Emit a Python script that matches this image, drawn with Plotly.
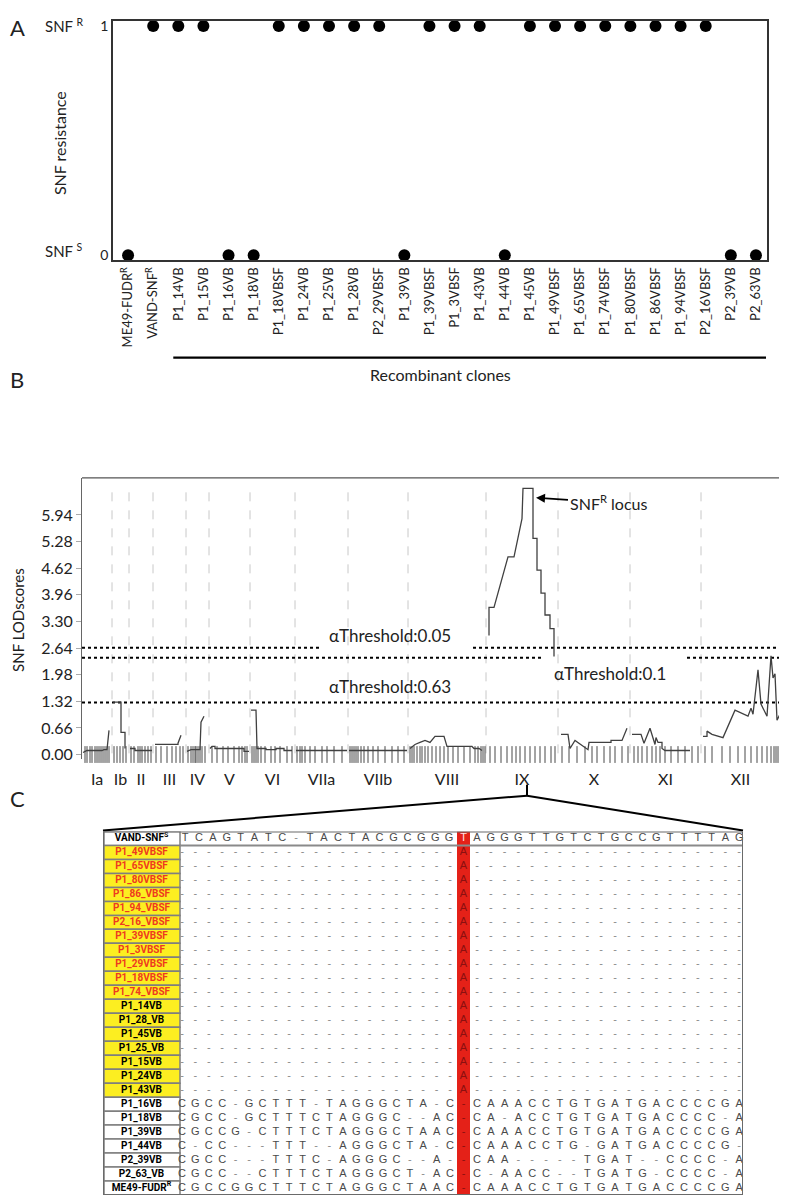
import plotly.graph_objects as go

# page body has an 8px margin: figure is drawn at (8, 8)
OFF = 8
W, H = 787 - OFF, 1203 - OFF
def px(x): return (x - OFF) / W
def py(y): return 1 - (y - OFF) / H

FONT = "Lato"
TFONT = "Liberation Sans"
NFONT = "Roboto"

# ---------------- Panel A data ----------------
clone_labels = ["ME49-FUDR<sup>R</sup>", "VAND-SNF<sup>R</sup>", "P1_14VB", "P1_15VB", "P1_16VB",
                "P1_18VB", "P1_18VBSF", "P1_24VB", "P1_25VB", "P1_28VB", "P2_29VBSF", "P1_39VB",
                "P1_39VBSF", "P1_3VBSF", "P1_43VB", "P1_44VB", "P1_45VB", "P1_49VBSF", "P1_65VBSF",
                "P1_74VBSF", "P1_80VBSF", "P1_86VBSF", "P1_94VBSF", "P2_16VBSF", "P2_39VB", "P2_63VB"]
snf_resistance = [0, 1, 1, 1, 0, 0, 1, 1, 1, 1, 1, 0, 1, 1, 1, 0, 1, 1, 1, 1, 1, 1, 1, 1, 0, 0]

# ---------------- Panel B data ----------------
chrom_names = ["Ia", "Ib", "II", "III", "IV", "V", "VI", "VIIa", "VIIb", "VIII", "IX", "X", "XI", "XII"]
chrom_bounds = [0, 3.0, 4.7, 7.1, 10.4, 12.7, 16.8, 21.3, 26.6, 32.6, 40.4, 47.6, 54.8, 61.9, 69.8]
lod_ticks = [0.00, 0.66, 1.32, 1.98, 2.64, 3.30, 3.96, 4.62, 5.28, 5.94]

lod_pos = [0.1, 0.5, 2.0, 2.2, 2.5, 2.7, None,
           3.1, 3.9, 3.9, 4.3, 4.3, None,
           4.8, 5.3, 5.3, 7.0, None,
           7.3, 9.6, 9.6, 9.9, None,
           10.5, 10.9, 11.8, 11.9, 12.2, None,
           12.8, 13.0, 13.3, 13.3, 16.2, 16.2, 16.7, None,
           16.9, 17.4, 17.5, 18.4, 18.4, 19.4, 19.4, 20.2, 20.2, 21.0, None,
           21.4, 26.5, None,
           26.7, 32.5, None,
           32.8, 33.3, 33.8, 34.3, 34.8, 35.3, 36.2, 36.5, 39.0, 39.2, 39.7, 40.0, None,
           40.7, 40.7, 41.2, 42.6, 43.2, 44.0, 44.1, 45.1, 45.1, 45.5, 45.5, 45.9, 45.9,
           46.3, 46.3, 46.8, 46.8, 47.2, 47.2, None,
           47.9, 48.6, 48.8, 49.3, 50.6, 50.7, 52.9, 52.9, 54.0, 54.5, None,
           55.0, 55.9, 56.2, 56.8, 57.3, 57.4, 57.6, 58.0, 58.0, 58.3, 60.8, None,
           62.1, 62.5, 62.5, 63.0, 64.1, 65.3, 66.6, 66.9, 67.1, 67.6, 67.9, 68.5, 68.9,
           69.1, 69.3, 69.5, 69.8]
lod_score = [0.05, 0.1, 0.1, 0.12, 0.12, 0.6, None,
             1.3, 1.3, 0.55, 0.55, 0.15, None,
             0.15, 0.15, 0.1, 0.1, None,
             0.25, 0.25, 0.28, 0.48, None,
             0.08, 0.12, 0.12, 0.8, 0.95, None,
             0.15, 0.2, 0.2, 0.15, 0.15, 0.08, 0.08, None,
             1.1, 1.1, 0.15, 0.15, 0.12, 0.12, 0.15, 0.15, 0.1, 0.1, None,
             0.1, 0.1, None,
             0.1, 0.1, None,
             0.15, 0.25, 0.3, 0.35, 0.3, 0.45, 0.45, 0.2, 0.2, 0.15, 0.15, 0.1, None,
             2.95, 3.65, 3.65, 4.9, 4.9, 5.85, 6.6, 6.6, 5.36, 5.36, 4.57, 4.57, 4.0,
             4.0, 3.46, 3.46, 3.12, 3.12, 2.43, None,
             0.5, 0.5, 0.15, 0.35, 0.12, 0.3, 0.3, 0.35, 0.35, 0.65, None,
             0.5, 0.5, 0.28, 0.65, 0.25, 0.42, 0.3, 0.3, 0.15, 0.1, 0.1, None,
             0.45, 0.45, 0.58, 0.5, 0.42, 1.1, 0.95, 1.15, 1.0, 2.1, 1.25, 0.95, 2.45,
             1.9, 2.0, 0.85, 1.0]

marker_pos = [0.3, 0.5, 0.8, 1.0, 1.3, 1.5, 1.7, 1.9, 2.1, 2.3, 2.5, 2.7,
              3.2, 3.5, 3.8, 4.1, 4.4,
              4.9, 5.2, 5.6, 5.8, 6.0, 6.3, 6.6, 6.9,
              7.4, 7.9, 8.5, 9.0, 9.4, 9.8, 10.1,
              10.6, 10.9, 11.1, 11.3, 11.4, 11.6, 11.8, 12.0, 12.3,
              13.0, 13.5, 14.1, 14.6, 15.2, 15.7, 16.0, 16.3, 16.5,
              17.0, 17.2, 17.4, 17.6, 17.9, 18.3, 18.9, 19.3, 19.8, 20.5, 21.0,
              21.5, 21.8, 22.0, 22.3, 22.8, 23.3, 24.0, 24.5, 25.2, 26.0,
              26.8, 27.0, 27.2, 27.4, 27.6, 27.9, 28.2, 28.6, 29.1, 29.6, 30.3, 31.0, 31.6, 32.2,
              32.8, 33.0, 33.2, 33.5, 33.8, 34.0, 34.3, 34.6, 35.0, 35.4, 35.8, 36.2, 36.6,
              37.1, 37.6, 38.2, 38.8, 39.3, 39.6, 39.9, 40.1, 40.3,
              40.8, 41.3, 41.9, 42.5, 43.0, 43.4, 43.8, 44.3, 44.8, 45.3, 45.8, 46.3, 46.9, 47.3,
              48.0, 48.7, 49.5, 50.3, 51.0, 51.5, 52.2, 52.8, 53.3, 54.0, 54.6,
              55.2, 55.6, 56.0, 56.5, 57.0, 57.4, 57.8, 58.3, 58.9, 59.6, 60.3, 61.0, 61.6,
              62.3, 63.0, 64.0, 64.8, 65.6, 66.3, 66.9, 67.5, 68.0, 68.5, 68.9, 69.2, 69.4, 69.6]

thr_levels = [2.65, 2.40, 1.29]
thr_labels = ["\u03b1Threshold:0.05", "\u03b1Threshold:0.1", "\u03b1Threshold:0.63"]
thr_segments = [[(0, 23.8), (39.1, 69.8)], [(0, 46.1), (60.5, 69.8)], [(0, 69.8)]]

# ---------------- Panel C data ----------------
strain_names = ["VAND-SNF<sup>S</sup>",
                "P1_49VBSF", "P1_65VBSF", "P1_80VBSF", "P1_86_VBSF", "P1_94_VBSF", "P2_16_VBSF",
                "P1_39VBSF", "P1_3VBSF", "P1_29VBSF", "P1_18VBSF", "P1_74_VBSF",
                "P1_14VB", "P1_28_VB", "P1_45VB", "P1_25_VB", "P1_15VB", "P1_24VB", "P1_43VB",
                "P1_16VB", "P1_18VB", "P1_39VB", "P1_44VB", "P2_39VB", "P2_63_VB", "ME49-FUDR<sup>R</sup>"]
strain_group = ["hdr"] + ["sf"] * 11 + ["vb"] * 7 + ["wt"] * 7
DASH21 = "-" * 21
DASH20 = "-" * 20
seq_left = ["TCAGTATC-TACTACGCGGG"] + [DASH21] * 18 + [
    "CGCC-GCTTT-TAGGGCTA-C", "CGCC-GCTTTCTAGGGC--AC", "CGCCG-CTTTCTAGGGCTAAC",
    "C-CC---TTT--AGGGCTA-C", "CGCC---TTTC-AGGGC--A-", "CGCC--CTTTCTAGGGCT-AC",
    "CGCCGGCTTTCTAGGGCTAAC"]
seq_snp = ["T"] + ["A"] * 18 + ["-"] * 7
seq_right = ["AGGGTTGTCTGCCGTTTTAG"] + [DASH20] * 18 + [
    "CAAACCTGTGATGACCCCGA", "CA-ACCTGTGATGACCCC-A", "CAAACCTGTGATGACCCCGA",
    "CAAACCTG-GATGACCCCG-", "CAA-----TGAT--CCCC-A", "C-AACC--TGATG-CCCC-A",
    "CAAACCTGTGATGACCCCGA"]

fig = go.Figure()

# ---------- Panel A ----------
fig.add_trace(go.Scatter(x=list(range(len(clone_labels))), y=snf_resistance, mode="markers",
                         marker=dict(color="black", size=12), xaxis="x", yaxis="y",
                         showlegend=False, hoverinfo="skip", cliponaxis=False))

# ---------- Panel B ----------
for lvl, segs in zip(thr_levels, thr_segments):
    xs, ys = [], []
    for a, b in segs:
        xs += [a, b, None]
        ys += [lvl, lvl, None]
    fig.add_trace(go.Scatter(x=xs, y=ys, mode="lines", xaxis="x2", yaxis="y2",
                             line=dict(color="black", width=2, dash="dot"),
                             showlegend=False, hoverinfo="skip"))
fig.add_trace(go.Scatter(x=marker_pos, y=[0] * len(marker_pos), mode="markers", xaxis="x2", yaxis="y2",
                         marker=dict(symbol="line-ns", size=12, line=dict(color="#333", width=0.9)),
                         showlegend=False, hoverinfo="skip", cliponaxis=False))
fig.add_trace(go.Scatter(x=lod_pos, y=lod_score, mode="lines", xaxis="x2", yaxis="y2",
                         line=dict(color="#404040", width=1.3), connectgaps=False,
                         showlegend=False, hoverinfo="skip"))

# ---------- Panel C ----------
nrows = len(strain_names)
name_colors = {"hdr": "black", "sf": "#ee3a1f", "vb": "black", "wt": "black"}
fig.add_trace(go.Scatter(x=[141.5] * nrows, y=list(range(nrows)), mode="text", text=strain_names,
                         textfont=dict(family=NFONT, size=10, color=[name_colors[g] for g in strain_group],
                                       weight="bold"),
                         xaxis="x3", yaxis="y3", showlegend=False, hoverinfo="skip", cliponaxis=False))
sx, sy, st, sc = [], [], [], []
for r in range(nrows):
    L = seq_left[r]
    if r == 0:
        xs = [185 + i * 13.9 for i in range(len(L))]
    else:
        xs = [182 + i * 13.4 for i in range(len(L))]
    for x, ch in zip(xs, L):
        sx.append(x); sy.append(r); st.append(ch)
        sc.append("#8a8a8a" if ch == "-" else "#4a4a4a")
    for i, ch in enumerate(seq_right[r]):
        sx.append(477 + i * 13.8); sy.append(r); st.append(ch)
        sc.append("#8a8a8a" if ch == "-" else "#4a4a4a")
fig.add_trace(go.Scatter(x=sx, y=sy, mode="text", text=st, textfont=dict(family=TFONT, size=11, color=sc),
                         xaxis="x3", yaxis="y3", showlegend=False, hoverinfo="skip", cliponaxis=False))
fig.add_trace(go.Scatter(x=[463.5] * nrows, y=list(range(nrows)), mode="text", text=seq_snp,
                         textfont=dict(family=TFONT, size=11,
                                       color=["#ffe0e0"] + ["#8b1010"] * (nrows - 1)),
                         xaxis="x3", yaxis="y3", showlegend=False, hoverinfo="skip", cliponaxis=False))

shapes = []
# Panel A recombinant line
shapes.append(dict(type="line", xref="x", yref="paper", x0=1.8, x1=25.4, y0=py(356), y1=py(356),
                   line=dict(color="black", width=2.2)))
# Panel B box top
shapes.append(dict(type="line", xref="x2 domain", yref="y2 domain", x0=0, x1=1, y0=1, y1=1,
                   line=dict(color="#555", width=1.3)))
# chromosome separators
for b in chrom_bounds[1:-1]:
    shapes.append(dict(type="line", xref="x2", yref="y2 domain", x0=b, x1=b, y0=0.02, y1=0.97,
                       line=dict(color="#c8c8c8", width=1, dash="dash"), layer="below"))
# connectors IX -> table
shapes.append(dict(type="line", xref="paper", yref="paper", x0=px(527), x1=px(527), y0=py(786), y1=py(797),
                   line=dict(color="black", width=2)))
shapes.append(dict(type="line", xref="paper", yref="paper", x0=px(527), x1=px(103), y0=py(797), y1=py(832),
                   line=dict(color="black", width=2)))
shapes.append(dict(type="line", xref="paper", yref="paper", x0=px(527), x1=px(743), y0=py(797), y1=py(832),
                   line=dict(color="black", width=2)))
# table cells
fills = {"hdr": "white", "sf": "#fcee21", "vb": "#fcee21", "wt": "white"}
for r in range(nrows):
    shapes.append(dict(type="rect", xref="x3", yref="y3", x0=104, x1=180, y0=r - 0.5, y1=r + 0.5,
                       fillcolor=fills[strain_group[r]], line=dict(color="#7f7f7f", width=1.5), layer="below"))
shapes.append(dict(type="rect", xref="x3", yref="y3", x0=457, x1=470, y0=-0.5, y1=nrows - 0.5,
                   fillcolor="#e42118", line=dict(width=0), layer="below"))
shapes.append(dict(type="line", xref="x3", yref="y3", x0=180, x1=743, y0=0.5, y1=0.5,
                   line=dict(color="#8a8a8a", width=2)))
shapes.append(dict(type="rect", xref="x3", yref="y3", x0=103, x1=743, y0=-0.5, y1=nrows - 0.5,
                   line=dict(color="#6a6a6a", width=2)))

def ann(text, x, y, size, **kw):
    d = dict(text=text, x=px(x), y=py(y), xref="paper", yref="paper", showarrow=False,
             xanchor="center", yanchor="middle",
             font=dict(family=FONT, size=size, color="#222"))
    d.update(kw)
    return d

annotations = [
    ann("A", 8, 8, 22, xanchor="left", yanchor="top"),
    ann("B", 8, 378, 22, xanchor="left"),
    ann("C", 8, 800, 22, xanchor="left"),
    ann("SNF <sup>R</sup>", 64, 22, 15),
    ann("SNF <sup>S</sup>", 64, 248, 15),
    ann("SNF resistance", 59, 140, 16, textangle=-90),
    ann("Recombinant clones", 440, 373, 16),
    ann("SNF LODscores", 18, 620, 15, textangle=-90),
    ann(thr_labels[0], 390, 636, 17),
    ann(thr_labels[1], 610, 674, 17),
    ann(thr_labels[2], 390, 687, 17),
    dict(text="SNF<sup>R</sup> locus", x=px(536), y=py(497), xref="paper", yref="paper",
         ax=72, ay=5, showarrow=True, arrowhead=2, arrowsize=1, arrowwidth=1.8, arrowcolor="black",
         font=dict(family=FONT, size=16, color="#222")),
]

fig.update_layout(
    width=W, height=H, autosize=False,
    margin=dict(l=0, r=0, t=0, b=0),
    paper_bgcolor="white", plot_bgcolor="white",
    showlegend=False,
    shapes=shapes, annotations=annotations,
    xaxis=dict(domain=[px(113), px(767)], range=[-0.6, 25.44], tickmode="array",
               tickvals=list(range(len(clone_labels))), ticktext=clone_labels, tickangle=-90,
               tickfont=dict(family=FONT, size=13, color="#222"), showgrid=False, zeroline=False,
               showline=True, mirror=True, linecolor="#333", linewidth=1.5, ticks=""),
    yaxis=dict(domain=[py(258), py(17)], range=[-0.022, 1.022], tickmode="array", tickvals=[0, 1],
               ticktext=["0", "1"], tickfont=dict(family=FONT, size=14, color="#222"), showgrid=False,
               zeroline=False, showline=True, mirror=True, linecolor="#333", linewidth=1.5, ticks=""),
    xaxis2=dict(domain=[px(82), px(780)], range=[0, 69.8], tickmode="array",
                tickvals=[(a + b) / 2 for a, b in zip(chrom_bounds[:-1], chrom_bounds[1:])],
                ticktext=chrom_names, tickfont=dict(family=FONT, size=16, color="#222"),
                ticks="outside", ticklen=6, tickcolor="rgba(0,0,0,0)", showgrid=False, zeroline=False,
                showline=False, anchor="y2"),
    yaxis2=dict(domain=[py(760), py(477)], range=[-0.11, 6.86], tickmode="array", tickvals=lod_ticks,
                ticktext=["%.2f" % v for v in lod_ticks], tickfont=dict(family=FONT, size=16, color="#222"),
                ticks="outside", ticklen=5, tickcolor="#aaa", showgrid=False, zeroline=False,
                showline=True, mirror=True, linecolor="#666", linewidth=1.1, anchor="x2"),
    xaxis3=dict(domain=[px(103), px(743)], range=[103, 743], visible=False, anchor="y3"),
    yaxis3=dict(domain=[py(1199), py(833)], range=[nrows - 0.5, -0.5], visible=False, anchor="x3"),
)

fig.write_html("out.html")
